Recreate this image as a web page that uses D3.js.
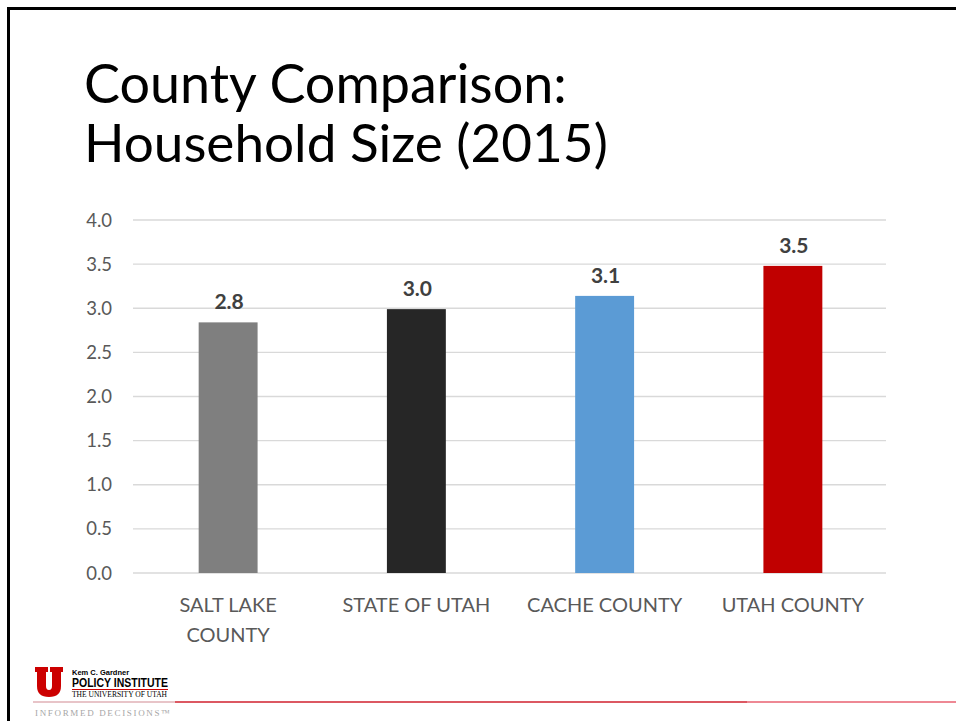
<!DOCTYPE html>
<html><head><meta charset="utf-8">
<script src="https://cdn.jsdelivr.net/npm/d3@7"></script>
<style>html,body{margin:0;padding:0;background:#fff;overflow:hidden}</style>
</head><body>
<svg id="c" width="956" height="721"></svg>
<script>
const categories = [["SALT LAKE","COUNTY"],["STATE OF UTAH"],["CACHE COUNTY"],["UTAH COUNTY"]];
const values = [2.84, 2.99, 3.14, 3.48];
const colors = ["#7f7f7f", "#262626", "#5b9bd5", "#c00000"];
const yTicks = [0, 0.5, 1, 1.5, 2, 2.5, 3, 3.5, 4];
const titleLines = ["County Comparison:", "Household Size (2015)"];

const svg = d3.select("#c");
const F = "Lato, 'Open Sans', sans-serif";

// frame
svg.append("rect").attr("x",0).attr("y",0).attr("width",956).attr("height",721).attr("fill","#fff");
svg.append("line").attr("x1",7).attr("x2",956).attr("y1",8.5).attr("y2",8.5).attr("stroke","#000").attr("stroke-width",3);
svg.append("line").attr("x1",8.5).attr("x2",8.5).attr("y1",7).attr("y2",721).attr("stroke","#000").attr("stroke-width",3);

// title
const tW = [483, 524];
const tY = [103, 162];
titleLines.forEach((t,i)=>{
  const el = svg.append("text").attr("x",84).attr("y",tY[i]).attr("font-family",F)
    .attr("font-size",60).attr("fill","#000").text(t);
  const w = el.node().getComputedTextLength();
  el.attr("font-size", 60*tW[i]/w);
});

// chart
const x = d3.scaleBand().domain(d3.range(categories.length)).range([134,887]).paddingInner(0.687).paddingOuter(0.3435);
const y = d3.scaleLinear().domain([0,4]).range([573,220]);

const g = svg.append("g");
g.selectAll("line.grid").data(yTicks).enter().append("line")
  .attr("x1",133).attr("x2",886).attr("y1",d=>y(d)).attr("y2",d=>y(d))
  .attr("stroke","#d9d9d9").attr("stroke-width",1.3);

g.selectAll("text.yt").data(yTicks).enter().append("text")
  .attr("x",112).attr("y",d=>y(d)+6.5).attr("text-anchor","end")
  .attr("font-family",F).attr("font-size",18.5).attr("fill","#595959")
  .text(d=>d3.format(".1f")(d));

g.selectAll("rect.bar").data(values).enter().append("rect")
  .attr("x",(d,i)=>x(i)).attr("width",x.bandwidth())
  .attr("y",d=>y(d)).attr("height",d=>y(0)-y(d))
  .attr("fill",(d,i)=>colors[i]);

g.selectAll("text.val").data(values).enter().append("text")
  .attr("x",(d,i)=>x(i)+x.bandwidth()/2+1).attr("y",d=>y(d)-13)
  .attr("text-anchor","middle").attr("font-family",F).attr("font-weight","bold")
  .attr("font-size",21).attr("fill","#404040")
  .text(d=>d3.format(".1f")(d));

categories.forEach((lines,i)=>{
  lines.forEach((l,j)=>{
    g.append("text").attr("x",x(i)+x.bandwidth()/2).attr("y",612+j*29.5)
      .attr("text-anchor","middle").attr("font-family",F).attr("font-size",20)
      .attr("fill","#595959").text(l);
  });
});

// logo
const lg = svg.append("g");
lg.append("path").attr("fill","#cc0000")
  .attr("d","M35,667 H48 V672 H46 V686 Q46,690 49,690 Q52,690 52,686 V672 H50 V667 H63 V672 H61 V686 Q61,697 49,697 Q37,697 37,686 V672 H35 Z");
lg.append("text").attr("x",72).attr("y",675).attr("font-family","'Liberation Sans Narrow', Arial, sans-serif")
  .attr("font-weight","bold").attr("font-size",7.5).attr("fill","#000").text("Kem C. Gardner");
lg.append("text").attr("x",72).attr("y",686.5).attr("font-family","'Liberation Sans Narrow', Arial, sans-serif")
  .attr("font-weight","bold").attr("font-size",12.5).attr("fill","#000").attr("textLength",96).attr("lengthAdjust","spacingAndGlyphs").text("POLICY INSTITUTE");
lg.append("line").attr("x1",72).attr("x2",168).attr("y1",689.5).attr("y2",689.5).attr("stroke","#cc0000").attr("stroke-width",1);
lg.append("text").attr("x",72).attr("y",696.5).attr("font-family","'Liberation Serif', serif")
  .attr("font-size",8).attr("fill","#000").attr("textLength",95).attr("lengthAdjust","spacingAndGlyphs").text("THE UNIVERSITY OF UTAH");
lg.append("line").attr("x1",33).attr("x2",175).attr("y1",702).attr("y2",702).attr("stroke","#e0b0b6").attr("stroke-width",1.5);
lg.append("line").attr("x1",175).attr("x2",747).attr("y1",702).attr("y2",702).attr("stroke","#d0202e").attr("stroke-width",1.5);
lg.append("line").attr("x1",747).attr("x2",956).attr("y1",702).attr("y2",702).attr("stroke","#e86070").attr("stroke-width",1.5);
lg.append("text").attr("x",35).attr("y",716).attr("font-family","'Liberation Serif', serif")
  .attr("font-size",9).attr("fill","#a6a6a6").attr("textLength",135).attr("lengthAdjust","spacing").text("INFORMED DECISIONS™");
</script>
</body></html>
